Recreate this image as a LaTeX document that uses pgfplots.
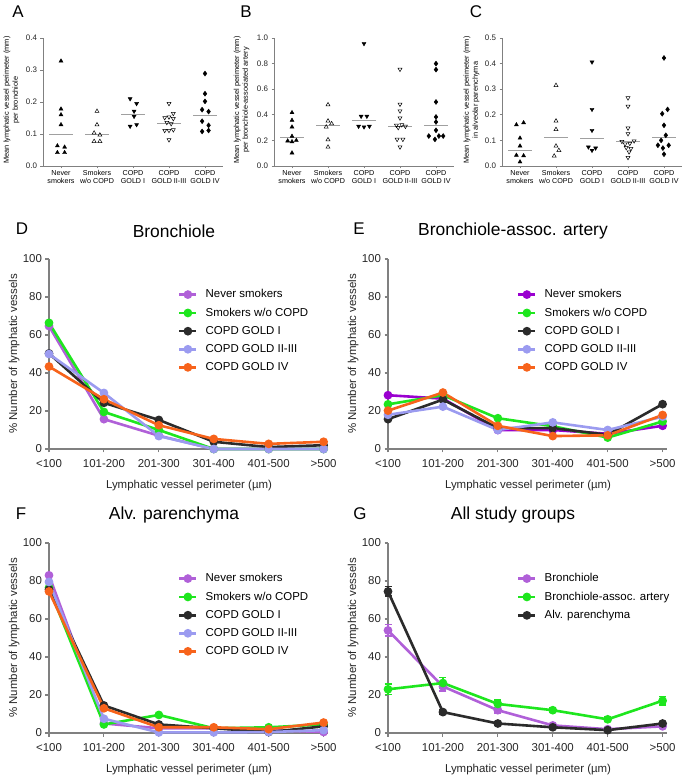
\documentclass[border=0pt]{standalone}
\usepackage{fontspec}
\setmainfont{Liberation Sans}
\setsansfont{Liberation Sans}
\usepackage{pgfplots}
\pgfplotsset{compat=1.18}
\definecolor{orch}{HTML}{B060D8}
\definecolor{viol}{HTML}{9A00D0}
\definecolor{grn}{HTML}{1EE61E}
\definecolor{blk}{HTML}{2B2B2B}
\definecolor{lav}{HTML}{9B9BF0}
\definecolor{org}{HTML}{F7631B}
\definecolor{axg}{HTML}{808080}
\definecolor{medg}{HTML}{A0A0A0}
\newcommand{\fs}[1]{\fontsize{#1}{#1}\selectfont}
\pgfplotsset{
 scat/.style={
  scale only axis, width=180bp, height=128bp,
  xmin=0.5, xmax=5.5, ymin=0,
  axis lines*=left, axis line style={axg, line width=0.7bp, -},
  tick style={axg, line width=0.7bp},
  tick align=outside, major tick length=2.5bp,
  xtick={1,2,3,4,5},
  xticklabels={Never\\smokers, Smokers\\w/o COPD, COPD\\GOLD I, COPD\\GOLD II-III, COPD\\GOLD IV},
  xticklabel style={align=center, font=\fontsize{7.2}{8.6}\selectfont, inner sep=1.5bp},
  yticklabel style={font=\fs{8}, text=black!85, /pgf/number format/fixed, /pgf/number format/fixed zerofill, /pgf/number format/precision=1},
  /pgf/number format/assume math mode=true,
  ylabel style={font=\fontsize{7.4}{9}\selectfont, align=center, anchor=center},
  clip=false,
 },
 nev/.style={only marks, mark=triangle*, mark size=2.3bp, black},
 smk/.style={only marks, mark=triangle, mark size=2.3bp, black, mark options={line width=0.5bp}},
 gI/.style={only marks, mark=triangle*, mark size=2.3bp, black, mark options={rotate=180}},
 gII/.style={only marks, mark=triangle, mark size=2.3bp, black, mark options={rotate=180, line width=0.5bp}},
 gIV/.style={only marks, mark=diamond*, mark size=2.5bp, black},
 med/.style={medg, line width=1bp, unbounded coords=jump, mark=none},
 lin/.style={
  scale only axis, width=279bp, height=190bp,
  xmin=0, xmax=5.08, ymin=0, ymax=100,
  axis lines*=left, axis line style={axg, line width=1.1bp, -},
  tick style={axg, line width=1.1bp}, tick align=outside, major tick length=3.5bp,
  xtick={0,1,2,3,4,5}, xticklabels={<100,101-200,201-300,301-400,401-500,>500},
  ytick={0,20,40,60,80,100},
  ticklabel style={font=\fs{11.5}, text=black!85},
  xticklabel style={yshift=-3bp},
  /pgf/number format/assume math mode=true,
  xlabel={Lymphatic vessel perimeter (µm)},
  ylabel={\% Number of lymphatic vessels},
  label style={font=\fs{11.5}, text=black!85},
  xlabel style={at={(axis description cs:0.502,-0.19)}, anchor=center},
  ylabel style={at={(axis description cs:-0.125,0.5)}, anchor=center},
  title style={font=\fs{17.5}, at={(axis description cs:0.448,1.116)}, anchor=center},
  clip=false,
  every axis plot/.append style={line width=2.6bp, mark=*, mark size=3bp, mark options={solid}},
  legend style={draw=none, fill=none, font=\fs{11.5}, at={(axis description cs:0.462,0.85)}, anchor=north west, row sep=4.6bp, column sep=6bp, inner xsep=0pt, inner ysep=0pt},
  legend cell align=left,
 },
}
\begin{document}
\begin{tikzpicture}
\path[use as bounding box] (0bp,0bp) rectangle (685bp,778bp);
% ---------- A
\begin{axis}[scat, at={(43bp,612bp)}, anchor=south west, ymax=0.4, ytick={0,0.1,0.2,0.3,0.4},
  ylabel={Mean lymphatic vessel perimeter (mm)\\per bronchiole},
  ylabel style={at={(axis description cs:-0.175,0.516)}}]
\addplot[med] coordinates {(0.67,0.097)(1.33,0.097)(1.5,nan)(1.67,0.099)(2.33,0.099)(2.5,nan)(2.67,0.160)(3.33,0.160)(3.5,nan)(3.67,0.134)(4.33,0.134)(4.5,nan)(4.67,0.159)(5.33,0.159)};
\addplot[nev] coordinates {(1.0,0.328)(1.0,0.178)(1.0,0.160)(1.0,0.129)(0.9,0.063)(1.1,0.059)(0.9,0.042)(1.1,0.042)};
\addplot[smk] coordinates {(2.0,0.171)(2.0,0.129)(1.92,0.103)(2.08,0.097)(1.92,0.077)(2.08,0.077)};
\addplot[gI] coordinates {(2.92,0.210)(3.1,0.195)(3.03,0.171)(3.03,0.155)(3.1,0.129)(2.92,0.124)};
\addplot[gII] coordinates {(4.0,0.195)(4.12,0.164)(3.88,0.151)(4.0,0.153)(4.12,0.148)(3.94,0.136)(4.06,0.132)(3.88,0.111)(4.0,0.111)(4.12,0.113)(4.0,0.082)};
\addplot[gIV] coordinates {(5.0,0.289)(5.0,0.226)(5.0,0.202)(4.92,0.176)(5.1,0.170)(4.92,0.140)(5.1,0.127)(4.92,0.108)(5.1,0.111)};
\end{axis}
% ---------- B
\begin{axis}[scat, at={(274bp,612bp)}, anchor=south west, ymax=1.0, ytick={0,0.2,0.4,0.6,0.8,1.0},
  ylabel={Mean lymphatic vessel perimeter (mm)\\per bronchiole-associated artery},
  ylabel style={at={(axis description cs:-0.18,0.516)}}]
\addplot[med] coordinates {(0.67,0.221)(1.33,0.221)(1.5,nan)(1.67,0.3125)(2.33,0.3125)(2.5,nan)(2.67,0.354)(3.33,0.354)(3.5,nan)(3.67,0.307)(4.33,0.307)(4.5,nan)(4.67,0.3125)(5.33,0.3125)};
\addplot[nev] coordinates {(1.0,0.417)(1.0,0.357)(1.0,0.305)(1.0,0.232)(0.88,0.196)(1.0,0.19)(1.12,0.2)(1.0,0.102)};
\addplot[smk] coordinates {(2.0,0.479)(2.0,0.352)(2.1,0.331)(1.95,0.305)(2.0,0.206)(2.0,0.148)};
\addplot[gI] coordinates {(3.0,0.956)(2.92,0.388)(3.08,0.388)(2.85,0.31)(3.0,0.305)(3.15,0.31)};
\addplot[gII] coordinates {(4.0,0.755)(4.0,0.482)(4.0,0.43)(4.0,0.375)(3.9,0.318)(4.05,0.322)(4.15,0.31)(3.95,0.3)(3.92,0.208)(4.08,0.208)(4.0,0.148)};
\addplot[gIV] coordinates {(5.0,0.80)(5.0,0.753)(5.0,0.50)(5.0,0.383)(5.0,0.344)(5.0,0.279)(4.8,0.234)(4.97,0.208)(5.08,0.234)(5.2,0.234)};
\end{axis}
% ---------- C
\begin{axis}[scat, at={(502bp,612bp)}, anchor=south west, ymax=0.5, ytick={0,0.1,0.2,0.3,0.4,0.5},
  ylabel={Mean lymphatic vessel perimeter (mm)\\in alveolar parenchyma},
  ylabel style={at={(axis description cs:-0.17,0.516)}}]
\addplot[med] coordinates {(0.67,0.0586)(1.33,0.0586)(1.5,nan)(1.67,0.113)(2.33,0.113)(2.5,nan)(2.67,0.108)(3.33,0.108)(3.5,nan)(3.67,0.094)(4.33,0.094)(4.5,nan)(4.67,0.112)(5.33,0.112)};
\addplot[nev] coordinates {(0.9,0.161)(1.1,0.169)(1.0,0.109)(1.0,0.078)(0.9,0.042)(1.1,0.040)(1.0,0.016)};
\addplot[smk] coordinates {(2.0,0.315)(2.0,0.176)(2.0,0.143)(2.0,0.078)(2.08,0.061)(1.95,0.039)};
\addplot[gI] coordinates {(3.0,0.406)(3.0,0.221)(3.0,0.139)(2.9,0.074)(3.0,0.061)(3.1,0.07)};
\addplot[gII] coordinates {(4.0,0.266)(4.0,0.233)(4.0,0.148)(4.0,0.126)(3.83,0.096)(4.17,0.098)(3.92,0.086)(4.05,0.088)(3.95,0.072)(4.08,0.068)(4.03,0.055)(4.0,0.033)};
\addplot[gIV] coordinates {(5.0,0.422)(5.1,0.221)(4.95,0.204)(5.0,0.159)(5.05,0.12)(4.92,0.10)(4.83,0.081)(5.13,0.081)(4.97,0.07)(5.0,0.046)};
\end{axis}
% ---------- D
\begin{axis}[lin, at={(49bp,329bp)}, anchor=south west, title={Bronchiole}]
\addplot[orch] coordinates {(0,64.7)(1,15.7)(2,7)(3,0)(4,0)(5,0)};
\addplot[grn] coordinates {(0,66.4)(1,19.5)(2,10)(3,0)(4,0)(5,0)};
\addplot[blk] coordinates {(0,50.3)(1,24.3)(2,15.3)(3,3.8)(4,1)(5,2)};
\addplot[lav] coordinates {(0,50)(1,29.5)(2,6.8)(3,0)(4,0)(5,0)};
\addplot[org] coordinates {(0,43.4)(1,26.2)(2,12.5)(3,5.3)(4,2.7)(5,3.8)};
\legend{Never smokers, Smokers w/o COPD, COPD GOLD I, COPD GOLD II-III, COPD GOLD IV}
\end{axis}
% ---------- E
\begin{axis}[lin, at={(388bp,329bp)}, anchor=south west, title={Bronchiole-assoc. artery}]
\addplot[viol] coordinates {(0,28.3)(1,26.5)(2,10)(3,10)(4,8)(5,12.2)};
\addplot[grn] coordinates {(0,23.5)(1,28.3)(2,16.2)(3,12)(4,6)(5,14.5)};
\addplot[blk] coordinates {(0,15.7)(1,26)(2,11)(3,11)(4,7.5)(5,23.6)};
\addplot[lav] coordinates {(0,18)(1,22.3)(2,10)(3,14)(4,10)(5,17)};
\addplot[org] coordinates {(0,20.2)(1,29.7)(2,12.2)(3,6.8)(4,7.2)(5,17.9)};
\legend{Never smokers, Smokers w/o COPD, COPD GOLD I, COPD GOLD II-III, COPD GOLD IV}
\end{axis}
% ---------- F
\begin{axis}[lin, at={(49bp,45bp)}, anchor=south west, title={Alv. parenchyma}]
\addplot[orch] coordinates {(0,83)(1,5)(2,2.5)(3,2.5)(4,1.5)(5,0.5)};
\addplot[grn] coordinates {(0,76.5)(1,4.5)(2,9.5)(3,2.5)(4,3)(5,4.5)};
\addplot[blk] coordinates {(0,75.5)(1,14.5)(2,4.5)(3,2.5)(4,0.5)(5,3.5)};
\addplot[lav] coordinates {(0,79.5)(1,7.5)(2,0.3)(3,0.3)(4,0.5)(5,1.5)};
\addplot[org] coordinates {(0,74.5)(1,13)(2,3)(3,3)(4,2)(5,5.5)};
\legend{Never smokers, Smokers w/o COPD, COPD GOLD I, COPD GOLD II-III, COPD GOLD IV}
\end{axis}
% ---------- G
\begin{axis}[lin, at={(388bp,45bp)}, anchor=south west, title={All study groups},
  error bars/error bar style={line width=1.5bp},
  error bars/error mark options={rotate=90, mark size=3.5bp, line width=1.5bp}]
\addplot[orch, error bars/.cd, y dir=both, y explicit] coordinates {(0,54) +- (0,3) (1,24.5) +- (0,2.5) (2,12) +- (0,1.5) (3,4) +- (0,1) (4,2) +- (0,0.8) (5,3.5) +- (0,1)};
\addplot[grn, error bars/.cd, y dir=both, y explicit] coordinates {(0,23) +- (0,2.8) (1,26.3) +- (0,2.8) (2,15.3) +- (0,2) (3,12) +- (0,1.3) (4,7.2) +- (0,1.2) (5,17) +- (0,2.2)};
\addplot[blk, error bars/.cd, y dir=both, y explicit] coordinates {(0,74.5) +- (0,2.5) (1,11) +- (0,1) (2,5) +- (0,0.8) (3,3) +- (0,0.8) (4,1.5) +- (0,0.5) (5,5) +- (0,1)};
\legend{Bronchiole, Bronchiole-assoc. artery, Alv. parenchyma}
\end{axis}
% panel letters
\node[font=\fs{17}] at (18bp,766bp) {A};
\node[font=\fs{17}] at (246bp,766bp) {B};
\node[font=\fs{17}] at (476bp,766bp) {C};
\node[font=\fs{17}] at (22bp,549bp) {D};
\node[font=\fs{17}] at (359bp,549bp) {E};
\node[font=\fs{17}] at (21bp,264bp) {F};
\node[font=\fs{17}] at (360bp,264bp) {G};
\end{tikzpicture}
\end{document}
